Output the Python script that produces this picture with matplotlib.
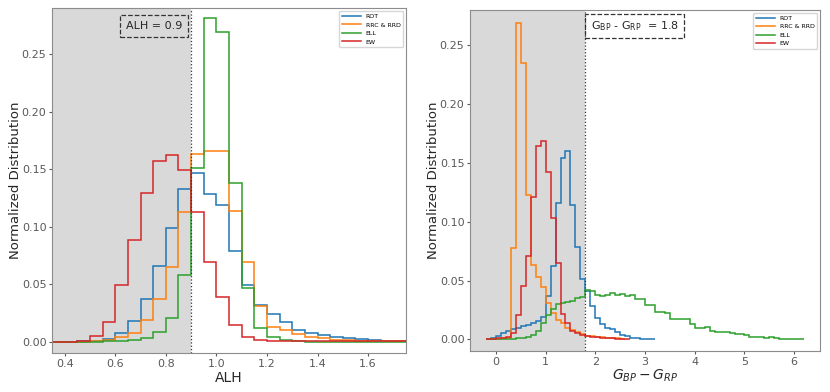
import numpy as np
import matplotlib
matplotlib.use('Agg')
import matplotlib.pyplot as plt

# ── data: left panel (ALH), bins of 0.05 starting at 0.35 ──
alh_start, alh_step = 0.35, 0.05
alh_rot = [0, 0, 0.0002, 0.0005, 0.002, 0.008, 0.018, 0.037, 0.066, 0.099,
           0.133, 0.147, 0.128, 0.119, 0.079, 0.049, 0.032, 0.024, 0.017, 0.010,
           0.008, 0.0055, 0.004, 0.003, 0.0025, 0.0015, 0.001, 0.0007]
alh_rrc = [0, 0, 0, 0.0005, 0.0015, 0.004, 0.008, 0.019, 0.037, 0.065,
           0.113, 0.163, 0.166, 0.166, 0.114, 0.069, 0.031, 0.013, 0.010, 0.0067,
           0.0043, 0.003, 0.0015, 0.0012, 0.001, 0.0008, 0.0006, 0.0005]
alh_ell = [0, 0, 0, 0, 0.0003, 0.001, 0.0015, 0.0035, 0.0087, 0.021,
           0.058, 0.151, 0.281, 0.269, 0.138, 0.047, 0.0116, 0.004, 0.0015, 0.0003,
           0, 0, 0, 0, 0, 0, 0, 0]
alh_ew = [0, 0, 0.001, 0.0052, 0.0174, 0.049, 0.088, 0.129, 0.157, 0.162,
          0.149, 0.113, 0.069, 0.039, 0.0145, 0.004, 0.0015, 0.0008, 0.0005, 0.0003,
          0.0002, 0.0002, 0.0002, 0.0002, 0.0002, 0.0002, 0.0002, 0.0002]
alh_cut = 0.9

# ── data: right panel (BP-RP colour), bins of 0.1 starting at -0.2 ──
col_start, col_step = -0.2, 0.1
col_rot = [0.0003, 0.001, 0.003, 0.005, 0.007, 0.009, 0.010, 0.011, 0.012, 0.014,
           0.016, 0.019, 0.037, 0.062, 0.116, 0.154, 0.160, 0.114, 0.0786, 0.051,
           0.041, 0.028, 0.018, 0.013, 0.0093, 0.0088, 0.0065, 0.0036, 0.003, 0.0012,
           0.001, 0.0004, 0.0003, 0.0003]
col_rrc = [0.0002, 0.0003, 0.0005, 0.0008, 0.001, 0.0778, 0.269, 0.235, 0.1225, 0.063,
           0.053, 0.0447, 0.0306, 0.022, 0.0164, 0.0136, 0.0093, 0.008, 0.0065, 0.0045,
           0.003, 0.0025, 0.002, 0.0016, 0.0013, 0.001, 0.0008, 0.0006]
col_ell = [0, 0, 0, 0, 0, 0.0005, 0.0008, 0.001, 0.002, 0.004,
           0.0075, 0.014, 0.021, 0.026, 0.030, 0.031, 0.032, 0.033, 0.035, 0.036,
           0.042, 0.041, 0.0376, 0.0368, 0.0376, 0.039, 0.038, 0.0385, 0.037, 0.0376,
           0.0345, 0.0345, 0.029, 0.029, 0.023, 0.0235, 0.022, 0.0175, 0.017, 0.017,
           0.017, 0.0127, 0.0093, 0.0093, 0.0102, 0.0067, 0.0065, 0.0061, 0.006, 0.0057,
           0.0048, 0.0045, 0.004, 0.0018, 0.0023, 0.0018, 0.0014, 0.0016, 0.0008, 0.0007,
           0.0006, 0.0004, 0.0003, 0.0003]
col_ew = [0.0003, 0.0005, 0.0008, 0.001, 0.002, 0.005, 0.0206, 0.045, 0.0707, 0.121,
          0.164, 0.169, 0.142, 0.103, 0.065, 0.0215, 0.014, 0.0075, 0.005, 0.004,
          0.003, 0.002, 0.0016, 0.0013, 0.001, 0.0008, 0.0006, 0.0005, 0.0004]
col_cut = 1.8

labels = ['ROT', 'RRC & RRD', 'ELL', 'EW']
colors = ['tab:blue', 'tab:orange', 'tab:green', 'tab:red']


def edges(start, step, vals):
    return start + step * np.arange(len(vals) + 1)


def style_axes(ax):
    for s in ax.spines.values():
        s.set_color('0.55')
    ax.tick_params(colors='0.35', labelsize=8, length=2, pad=2)
    ax.set_ylabel('Normalized Distribution', fontsize=9.5, color='0.15', labelpad=0)
    ax.set_yticks(np.arange(0, 0.26, 0.05))
    ax.yaxis.set_major_formatter(matplotlib.ticker.FormatStrFormatter('%.2f'))


fig = plt.figure(figsize=(8.3, 3.92), dpi=100)

# ── left panel ──
ax1 = fig.add_axes([0.0627, 0.0995, 0.4265, 0.880])
for vals, lab, c in zip([alh_rot, alh_rrc, alh_ell, alh_ew], labels, colors):
    ax1.stairs(vals, edges(alh_start, alh_step, vals), color=c, lw=1.1, label=lab)
ax1.set_xlim(0.35, 1.75)
ax1.set_ylim(-0.0098, 0.290)
ax1.axvspan(0.35, alh_cut, color='#d9d9d9', zorder=0, lw=0)
ax1.axvline(alh_cut, color='0.2', ls=':', lw=0.9)
ax1.set_xticks(np.arange(0.4, 1.61, 0.2))
ax1.set_xlabel('ALH', fontsize=10, color='0.15', labelpad=2)
ax1.text(0.753, 0.948, 'ALH = 0.9', transform=ax1.get_xaxis_transform(),
         ha='center', va='center', fontsize=8, color='0.15',
         bbox=dict(boxstyle='square,pad=0.5', fc='none', ec='0.2', ls='--', lw=0.9))
ax1.legend(loc='upper right', fontsize=4.5, handlelength=3, framealpha=0.8)
style_axes(ax1)

# ── right panel ──
ax2 = fig.add_axes([0.5663, 0.1046, 0.4217, 0.870])
for vals, lab, c in zip([col_rot, col_rrc, col_ell, col_ew], labels, colors):
    ax2.stairs(vals, edges(col_start, col_step, vals), color=c, lw=1.1, label=lab)
ax2.set_xlim(-0.52, 6.52)
ax2.set_ylim(-0.0099, 0.280)
ax2.axvspan(-0.52, col_cut, color='#d9d9d9', zorder=0, lw=0)
ax2.axvline(col_cut, color='0.2', ls=':', lw=0.9)
ax2.set_xticks(range(0, 7))
ax2.set_xlabel(r'$G_{BP} - G_{RP}$', fontsize=10, color='0.15', labelpad=1)
ax2.text(2.79, 0.953, r'$\mathrm{G_{BP}}$ - $\mathrm{G_{RP}}$  = 1.8',
         transform=ax2.get_xaxis_transform(),
         ha='center', va='center', fontsize=8, color='0.15',
         bbox=dict(boxstyle='square,pad=0.5', fc='none', ec='0.2', ls='--', lw=0.9))
ax2.legend(loc='upper right', fontsize=4.5, handlelength=3, framealpha=0.8)
style_axes(ax2)

fig.savefig('out.png', dpi=100)
plt.close(fig)
